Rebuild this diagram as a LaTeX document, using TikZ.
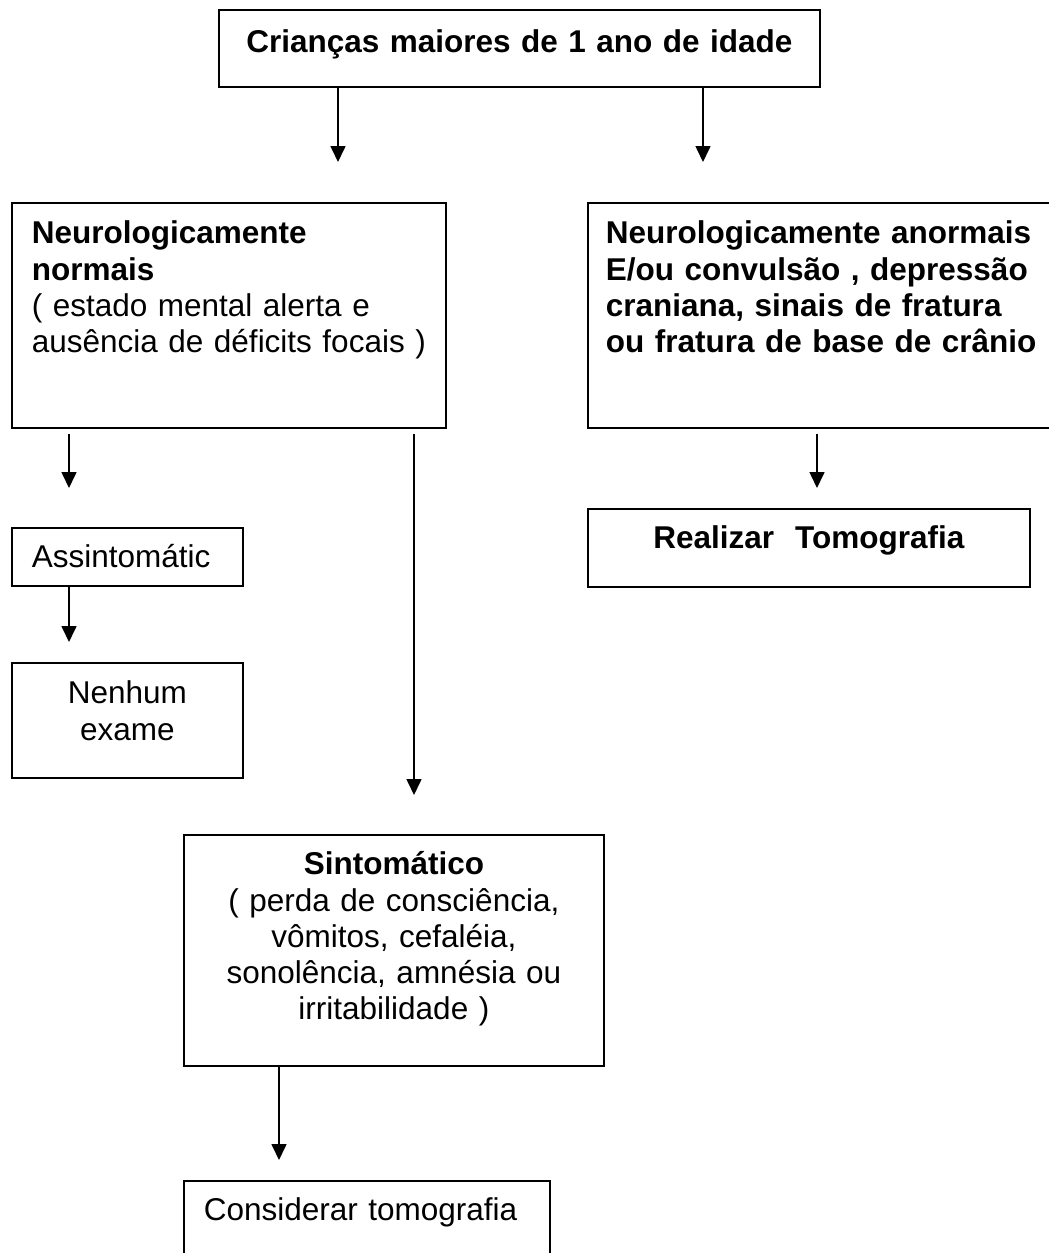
\documentclass[tikz,border=0pt]{standalone}
\usepackage{fontspec}
\setmainfont{Liberation Sans}
\usetikzlibrary{arrows.meta}

\begin{document}
\begin{tikzpicture}[x=0.5pt, y=-0.5pt]
	\tikzstyle{box} = [ draw, line width=0.9pt, anchor=north west, inner xsep=10pt, inner ysep=0pt, text height=20.5pt, font={\fontsize{15.75}{18.1}\selectfont} ];
	\tikzstyle{seta} = [ -{Triangle[length=8pt, width=7.5pt]}, line width=0.8pt ];

	\useasboundingbox (0,0) rectangle (1049,1253);
	\clip (0,0) rectangle (1049,1253);

	\node[box, text width=280.5pt, align=center, text height=21.5pt, text depth=17pt] (crianca) at (218,9) {\bfseries Crianças maiores de 1 ano de idade};

	\node[box, text width=197pt, align=left, text depth=92pt] (normais) at (11,202)
		{{\bfseries Neurologicamente\\ normais}\\( estado mental alerta e\\ausência de déficits focais )};
	\node[box, text width=218.5pt, inner xsep=9pt, align=left, text depth=92pt] (anormais) at (587,202)
		{\bfseries Neurologicamente anormais\\E/ou convulsão , depressão\\craniana, sinais de fratura\\ou fratura de base de crânio};

	\node[box, text width=201pt, align=center, text height=20pt, text depth=19pt] (realizar) at (587,508) {\bfseries Realizar\ \ Tomografia};
	\node[box, text width=95.5pt, align=left, text height=20pt, text depth=9pt] (assint) at (11,527) {Assintomátic};
	\node[box, text width=95.5pt, align=center, text depth=37pt] (nenhum) at (11,662) {Nenhum\\exame};

	\node[box, text width=190pt, align=center, text height=20pt, text depth=95.5pt] (sintom) at (183,834)
		{{\bfseries Sintomático}\\( perda de consciência,\\vômitos, cefaléia,\\sonolência, amnésia ou\\irritabilidade )};
	\node[box, text width=163pt, align=left, text height=20pt, text depth=22.5pt] (considerar) at (183,1180) {Considerar tomografia};

	% from / to / x offset / gap at start / gap at end
	\foreach \from/\to/\dx/\ga/\gb in {crianca/normais/60pt/0pt/20pt, crianca/anormais/242.5pt/0pt/20pt,
		normais/assint/29pt/2.5pt/19.5pt, normais/sintom/201.5pt/2.5pt/19.5pt, anormais/realizar/115pt/2.5pt/10pt,
		assint/nenhum/29pt/0pt/10pt, sintom/considerar/48pt/0pt/10pt}
		\draw[seta, shorten <=\ga, shorten >=\gb] ([xshift=\dx]\from.south west) -- ([xshift=\dx]\from.south west |- \to.north);
\end{tikzpicture}
\end{document}
